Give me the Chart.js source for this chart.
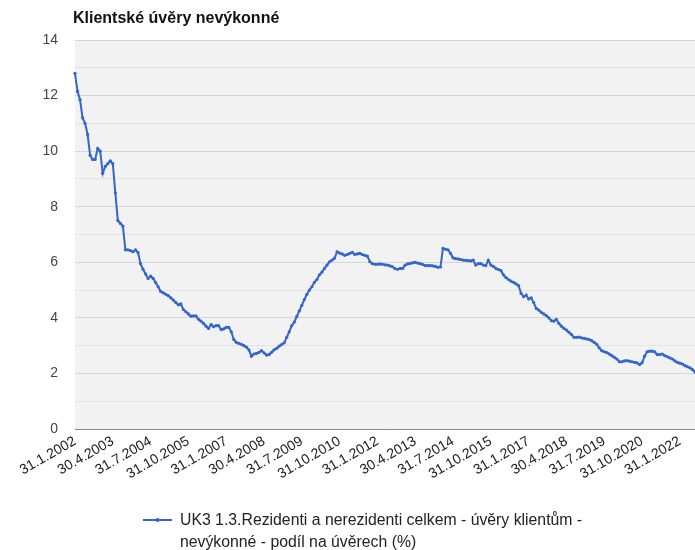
<!DOCTYPE html>
<html>
<head>
<meta charset="utf-8">
<script src="https://cdn.jsdelivr.net/npm/chart.js@4"></script>
<style>
  html, body { margin: 0; padding: 0; background: #fff; overflow: hidden; }
  canvas { display: block; }
</style>
</head>
<body>
<canvas id="npl" width="695" height="550"></canvas>
<script>
// Podíl nevýkonných úvěrů (%), měsíčně od 31.1.2002
const chartTitle = 'Klientské úvěry nevýkonné';
const seriesName = ['UK3 1.3.Rezidenti a nerezidenti celkem - úvěry klientům -', 'nevýkonné - podíl na úvěrech (%)'];
const startYear = 2002;
const tickEvery = 15; // popisek každých 15 měsíců

const values2002_2006 = [
  12.8, 12.15, 11.85, 11.2, 11.0, 10.6, 9.85, 9.7, 9.7, 10.1, 10.0, 9.2,
  9.45, 9.55, 9.65, 9.55, 8.5, 7.5, 7.4, 7.3, 6.45, 6.45, 6.42, 6.38,
  6.45, 6.35, 5.95, 5.75, 5.58, 5.42, 5.5, 5.42, 5.27, 5.12, 4.95, 4.9,
  4.85, 4.8, 4.72, 4.64, 4.55, 4.47, 4.5, 4.3, 4.22, 4.14, 4.06, 4.07,
  4.07, 3.95, 3.88, 3.8, 3.7, 3.62, 3.76, 3.68, 3.72, 3.72, 3.58, 3.6
];
const values2007_2011 = [
  3.66, 3.66, 3.5, 3.22, 3.12, 3.08, 3.05, 3.0, 2.95, 2.85, 2.62, 2.7,
  2.72, 2.76, 2.82, 2.74, 2.66, 2.68, 2.76, 2.85, 2.9, 2.98, 3.04, 3.1,
  3.3, 3.5, 3.72, 3.85, 4.05, 4.25, 4.45, 4.66, 4.85, 5.0, 5.12, 5.28,
  5.38, 5.55, 5.65, 5.78, 5.9, 6.02, 6.08, 6.15, 6.38, 6.33, 6.3, 6.25,
  6.28, 6.32, 6.36, 6.28, 6.3, 6.32, 6.28, 6.25, 6.22, 6.02, 5.95, 5.93
];
const values2012_2016 = [
  5.93, 5.94, 5.93, 5.91, 5.9, 5.87, 5.84, 5.77, 5.75, 5.78, 5.78, 5.9,
  5.94, 5.96, 5.98, 6.0, 5.97, 5.95, 5.92, 5.88, 5.88, 5.88, 5.87, 5.85,
  5.82, 5.83, 6.5, 6.47, 6.45, 6.32, 6.16, 6.13, 6.12, 6.1, 6.08, 6.07,
  6.06, 6.05, 6.08, 5.9, 5.95, 5.95, 5.9, 5.88, 6.07, 5.9, 5.85, 5.78,
  5.74, 5.7, 5.55, 5.45, 5.38, 5.32, 5.28, 5.22, 5.16, 4.88, 4.76, 4.82
];
const values2017_2022 = [
  4.68, 4.72, 4.55, 4.34, 4.28, 4.2, 4.14, 4.08, 4.0, 3.9, 3.88, 3.95,
  3.8, 3.7, 3.62, 3.56, 3.48, 3.4, 3.3, 3.3, 3.31, 3.28, 3.26, 3.24,
  3.22, 3.18, 3.12, 3.05, 2.92, 2.82, 2.78, 2.75, 2.7, 2.64, 2.58, 2.52,
  2.42, 2.42, 2.45, 2.46, 2.44, 2.42, 2.4, 2.38, 2.32, 2.38, 2.62, 2.78,
  2.8, 2.8, 2.78, 2.68, 2.68, 2.7, 2.64, 2.6, 2.56, 2.52, 2.45, 2.4,
  2.37, 2.34, 2.28, 2.24, 2.2, 2.14, 2.05
];
const nplShare = [].concat(values2002_2006, values2007_2011, values2012_2016, values2017_2022);

// popisky = poslední den v měsíci
const monthLabels = nplShare.map((v, i) => {
  const y = startYear + Math.floor(i / 12);
  const m = i % 12 + 1;
  const d = new Date(y, m, 0).getDate();
  return d + '.' + m + '.' + y;
});

const lineColor = '#3366cc';
const fontFamily = 'Arial, "Liberation Sans", sans-serif';

// pozadí plochy grafu
const areaBg = {
  id: 'areaBg',
  beforeDraw(chart) {
    const { ctx, chartArea: a } = chart;
    ctx.save();
    ctx.fillStyle = '#f2f2f2';
    ctx.fillRect(a.left, a.top, a.right - a.left, a.bottom - a.top);
    ctx.restore();
  }
};

// nadpis a legenda
const extras = {
  id: 'extras',
  afterDraw(chart) {
    const ctx = chart.ctx;
    ctx.save();
    ctx.fillStyle = '#111';
    ctx.font = 'bold 16px ' + fontFamily;
    ctx.textBaseline = 'middle';
    ctx.textAlign = 'left';
    ctx.fillText(chartTitle, 73, 19);

    ctx.strokeStyle = lineColor;
    ctx.lineWidth = 2;
    ctx.beginPath();
    ctx.moveTo(143, 520);
    ctx.lineTo(172, 520);
    ctx.stroke();
    ctx.fillStyle = lineColor;
    ctx.beginPath();
    ctx.arc(157.5, 520, 2, 0, Math.PI * 2);
    ctx.fill();

    ctx.fillStyle = '#222';
    ctx.font = '15.8px ' + fontFamily;
    ctx.fillText(seriesName[0], 180, 521);
    ctx.fillText(seriesName[1], 180, 543);
    ctx.restore();
  }
};

new Chart(document.getElementById('npl'), {
  type: 'line',
  data: {
    labels: monthLabels,
    datasets: [{
      label: seriesName.join(' '),
      data: nplShare,
      borderColor: lineColor,
      backgroundColor: lineColor,
      borderWidth: 2,
      pointRadius: 1.6,
      pointBorderWidth: 0,
      pointHoverRadius: 3,
      tension: 0
    }]
  },
  options: {
    responsive: false,
    animation: false,
    layout: { autoPadding: false, padding: { top: 40, right: 0, bottom: 56, left: 0 } },
    plugins: {
      legend: { display: false },
      title: { display: false },
      tooltip: { enabled: false }
    },
    scales: {
      x: {
        offset: false,
        grid: { display: false, drawTicks: false },
        border: { display: true, color: '#888', width: 1 },
        afterFit(scale) {
          scale.height = 65;
          scale.paddingRight = 0;
        },
        ticks: {
          autoSkip: false,
          minRotation: 30,
          maxRotation: 30,
          padding: 4,
          color: '#222',
          font: { family: fontFamily, size: 14 },
          callback(val, i) { return i % tickEvery === 0 ? monthLabels[i] : ''; }
        }
      },
      y: {
        min: 0,
        max: 14,
        afterFit(scale) { scale.width = 75; },
        grid: {
          drawTicks: false,
          color(c) { return c.tick.value % 2 === 0 ? '#d6d6d6' : '#e4e4e4'; }
        },
        border: { display: false },
        ticks: {
          stepSize: 1,
          padding: 17,
          color: '#444',
          font: { family: fontFamily, size: 14 },
          callback(v) { return v % 2 === 0 ? v : ''; }
        }
      }
    }
  },
  plugins: [areaBg, extras]
});
</script>
</body>
</html>
